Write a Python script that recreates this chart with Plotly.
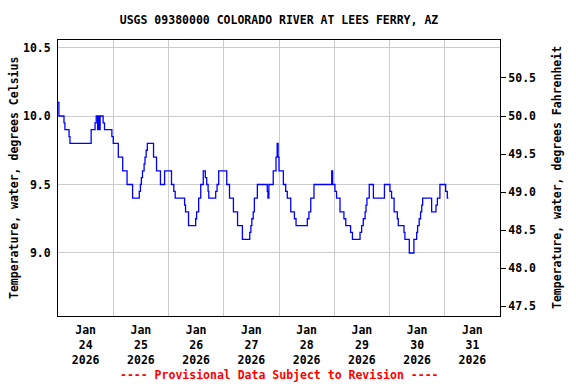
import pandas as pd
import plotly.graph_objects as go

# ---- data ----
start = "2026-01-24 00:00"
hours = [0.0, 0.4, 2.6, 3.0, 4.8, 5.2, 14.4, 16.1, 16.6, 17.2, 17.6, 18.0, 18.3, 19.6, 20.2,
         23.4, 24.0, 26.2, 28.1, 30.0, 32.4, 35.3, 35.8, 36.2, 36.7, 37.4, 37.8, 38.3, 38.8,
         41.5, 42.8, 44.5, 46.3, 49.3, 50.3, 50.9, 55.0, 55.4, 56.7, 59.8, 60.2, 61.1, 62.0,
         63.1, 64.0, 64.6, 65.2, 65.5, 68.5, 69.1, 69.8, 73.3, 74.5, 76.2, 78.0, 80.1, 83.3,
         83.8, 84.2, 84.8, 85.3, 86.6, 90.9, 91.2, 91.6, 93.5, 94.7, 95.2, 95.6, 96.0, 97.9,
         98.9, 99.6, 101.1, 102.7, 103.4, 108.3, 109.0, 109.8, 111.2, 118.9, 119.3, 120.3,
         121.0, 122.5, 124.2, 125.0, 127.1, 127.9, 131.2, 131.9, 132.6, 133.4, 133.8, 134.2,
         135.2, 137.0, 141.8, 144.2, 144.9, 146.0, 147.4, 147.8, 150.3, 150.7, 152.6, 154.6,
         155.8, 156.2, 156.9, 157.5, 158.0, 158.4, 162.3, 164.2, 164.8, 165.9, 168.4, 169.1,
         169.6]
temps_c = [10.1, 10.0, 9.95, 9.9, 9.85, 9.8, 9.9, 9.95, 10.0, 9.9, 10.0, 9.9, 10.0, 9.95, 9.9,
           9.85, 9.8, 9.7, 9.6, 9.5, 9.4, 9.45, 9.5, 9.55, 9.6, 9.65, 9.7, 9.75, 9.8,
           9.7, 9.6, 9.5, 9.6, 9.5, 9.45, 9.4, 9.35, 9.3, 9.2, 9.25, 9.3, 9.4, 9.5,
           9.6, 9.55, 9.5, 9.45, 9.4, 9.45, 9.5, 9.6, 9.5, 9.4, 9.3, 9.2, 9.1, 9.15,
           9.2, 9.25, 9.3, 9.4, 9.5, 9.45, 9.4, 9.5, 9.6, 9.7, 9.8, 9.7, 9.6, 9.5,
           9.45, 9.4, 9.3, 9.25, 9.2, 9.25, 9.3, 9.4, 9.5, 9.6, 9.5, 9.45,
           9.4, 9.3, 9.25, 9.2, 9.15, 9.1, 9.15, 9.2, 9.25, 9.3, 9.35, 9.4,
           9.5, 9.4, 9.5, 9.45, 9.4, 9.3, 9.25, 9.2, 9.15, 9.1, 9.0, 9.1,
           9.15, 9.2, 9.25, 9.3, 9.35, 9.4, 9.3, 9.35, 9.4, 9.5, 9.45, 9.4,
           9.4]
tick_days = ["2026-01-24", "2026-01-25", "2026-01-26", "2026-01-27",
             "2026-01-28", "2026-01-29", "2026-01-30", "2026-01-31"]
tick_labels = ["Jan<br>24<br>2026", "Jan<br>25<br>2026", "Jan<br>26<br>2026", "Jan<br>27<br>2026",
               "Jan<br>28<br>2026", "Jan<br>29<br>2026", "Jan<br>30<br>2026", "Jan<br>31<br>2026"]
c_ticks = [9.0, 9.5, 10.0, 10.5]
f_ticks = [47.5, 48.0, 48.5, 49.0, 49.5, 50.0, 50.5]
c_range = [8.54, 10.555]

times = pd.Timestamp(start) + pd.to_timedelta(hours, unit="h")
tick_pos = [pd.Timestamp(d) + pd.Timedelta(hours=12) for d in tick_days]
f_range = [c * 1.8 + 32 for c in c_range]

FONT = "DejaVu Sans Mono"
fnt = dict(family=FONT, size=11.5, color="black", weight="bold")

fig = go.Figure()
fig.add_trace(go.Scatter(x=times, y=temps_c, mode="lines", line=dict(color="#0000FF", width=1.3, shape="hv"),
                         showlegend=False, hoverinfo="skip"))
# invisible trace to activate the Fahrenheit axis
fig.add_trace(go.Scatter(x=[times[0]], y=[f_range[0]], yaxis="y2", mode="markers",
                         marker=dict(opacity=0), showlegend=False, hoverinfo="skip"))

fig.update_layout(
    width=576, height=384,
    margin=dict(l=58, r=76, t=40, b=68, autoexpand=False),
    paper_bgcolor="white", plot_bgcolor="white",
    font=fnt,
    title=dict(text="USGS 09380000 COLORADO RIVER AT LEES FERRY, AZ", x=279 / 576,
               xanchor="center", y=1 - 20 / 384, yanchor="middle", font=fnt),
    xaxis=dict(range=["2026-01-24", "2026-02-01"], tickvals=tick_pos, ticktext=tick_labels,
               showgrid=False, ticks="outside", ticklen=3, tickcolor="rgba(0,0,0,0)",
               showline=True, linecolor="black", linewidth=1, mirror=True,
               tickfont=fnt, zeroline=False, automargin=False,
               minor=dict(showgrid=True, gridcolor="#cccccc", gridwidth=1, dtick=86400000,
                          tick0="2026-01-24", ticks="")),
    yaxis=dict(range=c_range, tickvals=c_ticks, tickformat=".1f", showgrid=True, gridcolor="#cccccc",
               gridwidth=1, showline=True, linecolor="black", linewidth=1, ticks="outside",
               ticklen=4, tickcolor="rgba(0,0,0,0)", tickfont=fnt, zeroline=False, automargin=False),
    yaxis2=dict(range=f_range, tickvals=f_ticks, tickformat=".1f", overlaying="y", side="right",
                showgrid=False, showline=True, linecolor="black", linewidth=1, ticks="outside",
                ticklen=5, tickcolor="black", tickfont=fnt, zeroline=False, automargin=False),
    annotations=[
        dict(text="Temperature, water, degrees Celsius", textangle=-90, xref="paper", yref="paper",
             x=0, y=0.5, xshift=-44, xanchor="center", yanchor="middle", showarrow=False, font=fnt),
        dict(text="Temperature, water, degrees Fahrenheit", textangle=-90, xref="paper", yref="paper",
             x=1, y=0.5, xshift=57, xanchor="center", yanchor="middle", showarrow=False, font=fnt),
        dict(text="---- Provisional Data Subject to Revision ----", xref="paper", yref="paper",
             x=0.5, y=0, yshift=-59, xanchor="center", yanchor="middle",
             showarrow=False, font=dict(family=FONT, size=11.5, color="red", weight="bold")),
    ],
)

fig.write_html("out.html", config={"displayModeBar": False},
               post_script="document.body.style.margin='0';")
